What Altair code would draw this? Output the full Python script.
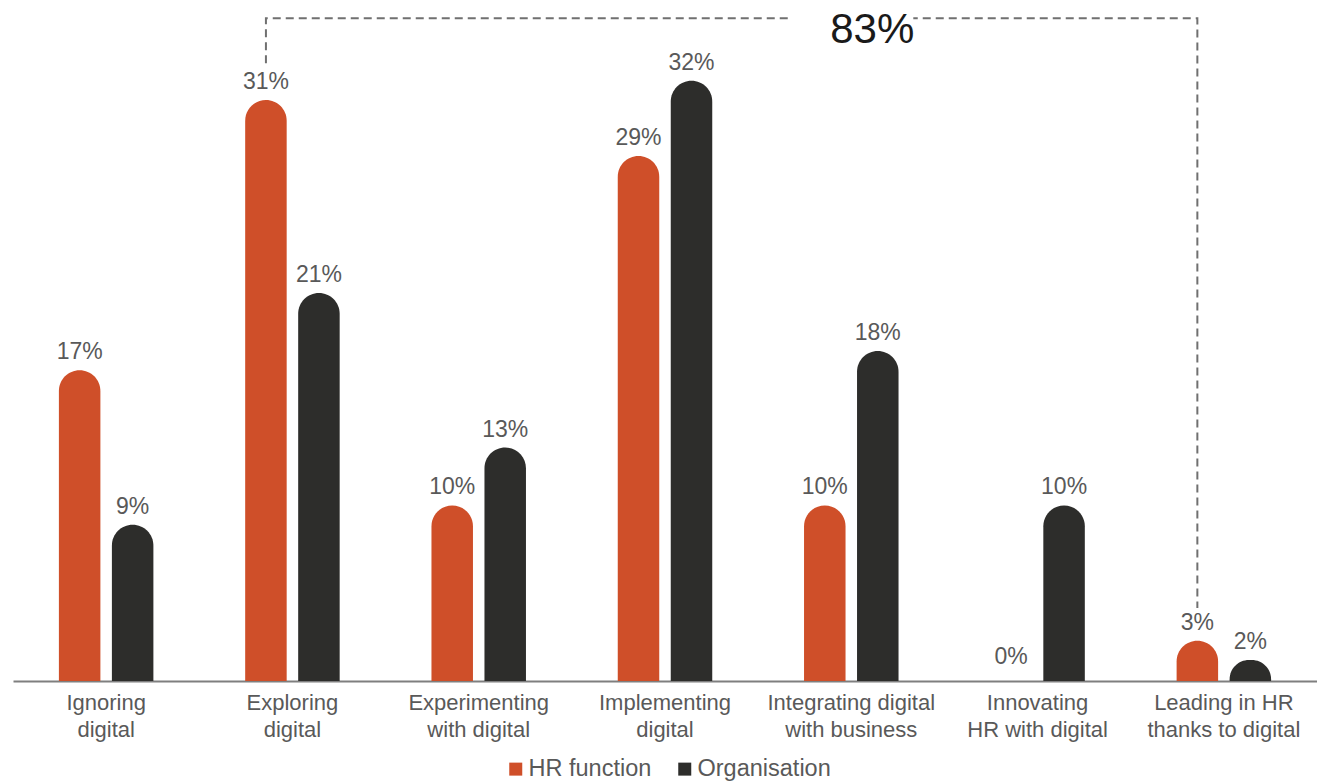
import altair as alt
import pandas as pd

categories = [
    "Ignoring|digital",
    "Exploring|digital",
    "Experimenting|with digital",
    "Implementing|digital",
    "Integrating digital|with business",
    "Innovating|HR with digital",
    "Leading in HR|thanks to digital",
]
series = ["HR function", "Organisation"]
hr_values = [17, 31, 10, 28.1, 10, 0, 3]
org_values = [9, 21, 13, 32, 18, 10, 2]
hr_labels = ["17%", "31%", "10%", "29%", "10%", "0%", "3%"]
org_labels = ["9%", "21%", "13%", "32%", "18%", "10%", "2%"]
colors = ["#CF4F29", "#2D2D2B"]

bracket_cats = [categories[1], categories[1], categories[6], categories[6]]
bracket_y = [32.9, 35.24, 35.24, 4.69]
bracket_total = "83%"

rows = []
for c, v, l in zip(categories, hr_values, hr_labels):
    rows.append({"cat": c, "series": series[0], "value": v, "label": l})
for c, v, l in zip(categories, org_values, org_labels):
    rows.append({"cat": c, "series": series[1], "value": v, "label": l})
df = pd.DataFrame(rows)

bdf = pd.DataFrame({"cat": bracket_cats, "series": [series[0]] * 4,
                    "y": bracket_y, "order": [0, 1, 2, 3]})
tdf = pd.DataFrame({"cat": [categories[4]], "y": [35.24], "text": [bracket_total],
                    "gap_top": [35.8], "gap_bottom": [34.6]})

FONT = "Liberation Sans"
ymin, ymax = 0.91, 36.18

x_enc = alt.X("cat:N", sort=categories,
              scale=alt.Scale(domain=categories, paddingInner=0, paddingOuter=0),
              axis=alt.Axis(title=None, labelExpr="split(datum.label, '|')",
                            labelFont=FONT, labelFontSize=22, labelColor="#595959",
                            labelLineHeight=27, labelPadding=11, labelAngle=0,
                            ticks=False, domainColor="#7f7f7f", domainWidth=2,
                            grid=False))
xoff = alt.XOffset("series:N", sort=series,
                   scale=alt.Scale(domain=series, paddingInner=0.217, paddingOuter=0.866))
y_scale = alt.Scale(domain=[ymin, ymax], zero=False, nice=False)

bars = alt.Chart(df).mark_bar(clip=True, cornerRadiusTopLeft=21, cornerRadiusTopRight=21).encode(
    x=x_enc,
    xOffset=xoff,
    y=alt.Y("value:Q", scale=y_scale, axis=None, stack=None),
    y2=alt.Y2(datum=0),
    color=alt.Color("series:N", sort=series,
                    scale=alt.Scale(domain=series, range=colors),
                    legend=alt.Legend(title=None, orient="none", direction="horizontal",
                                      legendX=491, legendY=757, symbolType="square",
                                      symbolSize=169, symbolStrokeWidth=0,
                                      labelFont=FONT, labelFontSize=23.5,
                                      labelColor="#595959", labelOffset=1,
                                      columnPadding=21, padding=0)),
)

labels = alt.Chart(df).transform_calculate(
    ly="max(datum.value, 1.2)"
).mark_text(font=FONT, fontSize=23, color="#595959", baseline="alphabetic", dy=-11).encode(
    x=alt.X("cat:N", sort=categories),
    xOffset=alt.XOffset("series:N", sort=series),
    y=alt.Y("ly:Q", scale=y_scale),
    text="label:N",
)

bracket = alt.Chart(bdf).mark_line(strokeDash=[8, 5], strokeWidth=2, color="#707070").encode(
    x=alt.X("cat:N", sort=categories),
    xOffset=alt.XOffset("series:N", sort=series),
    y=alt.Y("y:Q", scale=y_scale),
    order="order:Q",
)

gap = alt.Chart(tdf).mark_bar(width=124, color="white").encode(
    x=alt.X("cat:N", sort=categories),
    y=alt.Y("gap_top:Q", scale=y_scale),
    y2="gap_bottom:Q",
)
total = alt.Chart(tdf).mark_text(font=FONT, fontSize=42, color="#1a1a1a",
                                 baseline="alphabetic", dx=21, dy=25).encode(
    x=alt.X("cat:N", sort=categories),
    y=alt.Y("y:Q", scale=y_scale),
    text="text:N",
)

chart = alt.layer(bars, labels, bracket, gap, total).properties(
    width=1304, height=681,
    padding={"left": 13, "top": 0, "right": 0, "bottom": 100},
    autosize="none", background="white",
).configure_view(stroke=None)

chart.save("out.html", embed_options={"renderer": "svg", "actions": False})
